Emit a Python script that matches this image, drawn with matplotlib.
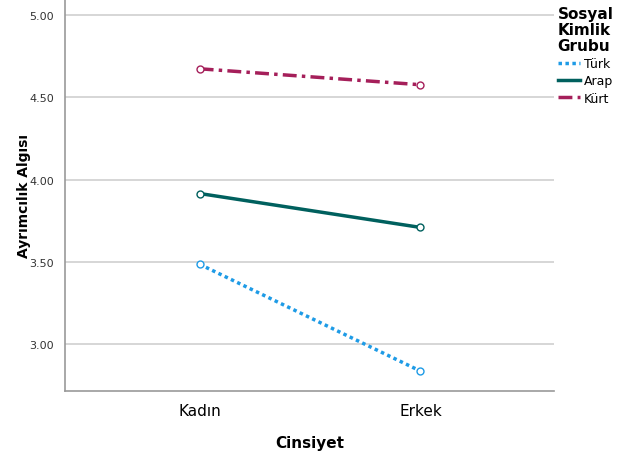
import matplotlib.pyplot as plt
import numpy as np

categories = ["Kadın", "Erkek"]
groups = ["Türk", "Arap", "Kürt"]
turk = [3.485, 2.836]
arap = [3.915, 3.709]
kurt = [4.673, 4.576]
yticks = [3.0, 3.5, 4.0, 4.5, 5.0]

colors = ["#1e9be6", "#00605e", "#a51f5a"]
styles = [(0, (1, 1)), "-", (0, (4, 1.5, 1, 1.5))]

fig = plt.figure(figsize=(6.23, 4.52), dpi=100)
ax = fig.add_axes([65 / 623, 1 - 392 / 452, (554 - 65) / 623, 392 / 452])

x = np.arange(len(categories))
for vals, name, c, ls in zip([turk, arap, kurt], groups, colors, styles):
    ax.plot(x, vals, color=c, linestyle=ls, linewidth=2.5, marker="o",
            markersize=5, markerfacecolor="white", markeredgecolor=c,
            markeredgewidth=1, label=name)

ax.set_xlim(-0.61, 1.605)
ax.set_ylim(2.715, 5.097)
ax.set_xticks(x)
ax.set_xticklabels(categories, fontsize=11)
ax.set_yticks(yticks)
ax.set_yticklabels([f"{v:.2f}" for v in yticks], fontsize=8, color="#333333")
ax.tick_params(length=0, pad=8)
ax.tick_params(axis="x", pad=9)
ax.grid(axis="y", color="#d0d0d0", linewidth=1.2)
ax.set_axisbelow(True)
for s in ["top", "right"]:
    ax.spines[s].set_visible(False)
for s in ["left", "bottom"]:
    ax.spines[s].set_color("#999999")
    ax.spines[s].set_linewidth(1.2)

ax.set_xlabel("Cinsiyet", fontsize=11, fontweight="bold", labelpad=12)
ax.set_ylabel("Ayrımcılık Algısı", fontsize=10, fontweight="bold")
ax.yaxis.set_label_coords(-0.07, 0.5)

leg = fig.legend(loc="upper left", bbox_to_anchor=(550 / 623, 1.0),
                 title="Sosyal\nKimlik\nGrubu", frameon=False, fontsize=9,
                 handlelength=1.8, handletextpad=0.3, labelspacing=0.35,
                 borderaxespad=0.2)
leg.get_title().set_fontweight("bold")
leg.get_title().set_fontsize(11)
leg.get_title().set_linespacing(1.05)
for h in leg.get_lines():
    h.set_marker("")

plt.savefig("out.png", dpi=100)
